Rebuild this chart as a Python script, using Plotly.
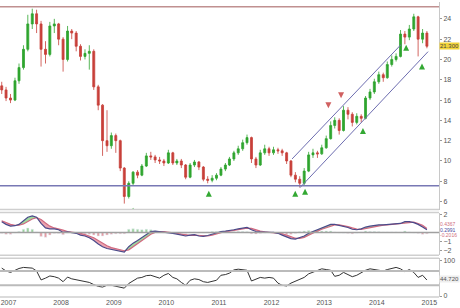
import pandas as pd
import plotly.graph_objects as go
from plotly.subplots import make_subplots

# ---------------- data (monthly) ----------------
start_month = "2006-11-01"
open_ = [17.4,17.0,16.2,16.0,17.9,19.2,21.0,23.5,24.5,23.5,
         21.0,20.5,23.3,23.5,22.0,20.0,22.8,22.6,21.3,20.3,
         20.6,20.8,17.3,15.5,12.0,11.5,12.5,12.0,9.3,6.5,
         7.8,8.9,8.6,9.5,10.5,10.4,10.1,10.0,9.8,10.8,
         9.8,10.0,9.6,8.4,9.6,9.9,9.4,8.2,8.1,8.3,
         8.6,9.2,9.6,10.2,10.8,11.2,11.8,12.3,10.2,9.6,
         10.8,11.2,10.8,11.1,11.0,10.8,10.0,8.6,8.2,7.8,
         9.0,10.6,10.8,10.7,11.3,12.2,13.5,14.0,13.0,15.0,
         14.6,13.8,14.4,14.2,16.2,16.8,17.8,18.5,18.2,19.5,
         20.0,20.3,22.5,22.2,23.0,24.2,22.0,22.6]
high = [17.8,17.3,16.6,18.2,19.6,21.4,24.4,25.0,24.9,23.8,
        21.8,23.7,24.0,23.6,22.2,23.3,23.0,22.8,21.5,21.0,
        21.4,21.0,17.5,15.6,15.0,12.8,12.7,12.1,9.4,8.0,
        9.0,9.1,9.7,10.8,10.9,10.6,10.4,10.2,11.1,10.9,
        10.2,10.2,9.7,9.8,10.1,10.0,9.5,8.5,8.6,8.8,
        9.4,9.8,10.4,11.0,11.5,12.1,12.6,12.4,10.4,11.1,
        11.6,11.4,11.4,11.3,11.2,10.9,10.1,8.9,8.5,9.3,
        10.9,11.2,11.0,11.6,12.5,13.9,14.3,14.2,15.4,15.3,
        14.8,14.7,14.6,16.4,17.1,18.1,18.8,18.7,19.8,20.4,
        20.6,22.9,22.8,23.4,24.5,24.3,23.0,22.8]
low = [16.6,15.9,15.7,15.9,17.6,19.0,20.8,23.0,22.6,19.3,
       19.6,20.3,22.6,21.4,18.8,19.8,22.0,20.8,19.9,20.0,
       19.0,17.0,15.0,10.5,10.9,11.2,10.8,9.0,5.8,6.3,
       7.6,8.3,8.5,9.4,10.1,9.8,9.7,9.5,9.7,9.6,
       9.6,9.3,8.2,8.3,9.4,9.1,8.0,7.8,7.9,8.1,
       8.5,9.0,9.5,10.0,10.6,11.0,11.6,9.8,9.3,9.5,
       10.6,10.5,10.6,10.7,10.5,9.7,8.4,7.9,7.4,7.6,
       8.9,10.3,10.3,10.6,11.2,12.1,13.2,12.6,12.9,14.1,
       13.4,13.6,13.8,14.1,16.0,16.6,17.6,17.8,18.1,19.3,
       19.8,20.2,21.5,21.9,22.8,20.3,21.6,21.1]
close = [17.0,16.2,16.0,17.9,19.2,21.0,23.5,24.5,23.5,21.0,
         20.5,23.3,23.5,22.0,20.0,22.8,22.6,21.3,20.3,20.6,
         20.8,17.3,15.5,12.0,11.5,12.5,12.0,9.3,6.5,7.8,
         8.9,8.6,9.5,10.5,10.4,10.1,10.0,9.8,10.8,9.8,
         10.0,9.6,8.4,9.6,9.9,9.4,8.2,8.1,8.3,8.6,
         9.2,9.6,10.2,10.8,11.2,11.8,12.3,10.2,9.6,10.8,
         11.2,10.8,11.1,11.0,10.8,10.0,8.6,8.2,7.8,9.0,
         10.6,10.8,10.7,11.3,12.2,13.5,14.0,13.0,15.0,14.6,
         13.8,14.4,14.2,16.2,16.8,17.8,18.5,18.2,19.5,20.0,
         20.3,22.5,22.2,23.0,24.2,22.0,22.6,21.3]
macd = [1.2,0.9,0.7,0.75,0.9,1.3,1.7,1.85,1.7,1.0,
        0.5,0.4,0.4,0.3,0.0,0.05,0.0,-0.1,-0.3,-0.4,
        -0.6,-0.9,-1.3,-1.6,-1.8,-1.9,-2.0,-2.1,-2.2,-1.6,
        -1.2,-0.9,-0.6,-0.2,0.1,0.15,0.1,0.0,0.0,-0.1,
        -0.2,-0.3,-0.4,-0.3,-0.25,-0.4,-0.45,-0.35,-0.2,-0.05,
        0.1,0.15,0.2,0.3,0.4,0.5,0.55,0.3,0.1,0.05,
        0.0,0.0,0.0,-0.1,-0.3,-0.5,-0.7,-0.75,-0.6,-0.4,
        -0.1,0.1,0.3,0.5,0.7,0.9,0.9,0.8,0.7,0.55,
        0.35,0.3,0.4,0.6,0.7,0.8,0.85,0.85,0.9,0.95,
        1.0,1.0,1.2,1.2,1.1,0.9,0.6,0.30]
signal = [1.3,1.1,0.9,0.8,0.8,0.95,1.2,1.5,1.65,1.45,
          1.05,0.7,0.5,0.4,0.25,0.1,0.05,0.0,-0.1,-0.25,
          -0.4,-0.6,-0.9,-1.2,-1.5,-1.7,-1.85,-1.95,-2.05,-1.95,
          -1.6,-1.25,-0.9,-0.55,-0.2,0.0,0.1,0.08,0.03,-0.02,
          -0.1,-0.2,-0.3,-0.33,-0.3,-0.33,-0.4,-0.4,-0.3,-0.15,
          0.0,0.1,0.15,0.22,0.3,0.4,0.48,0.45,0.28,0.15,
          0.07,0.03,0.01,-0.03,-0.15,-0.3,-0.5,-0.65,-0.68,-0.55,
          -0.3,-0.05,0.15,0.35,0.55,0.75,0.85,0.85,0.78,0.65,
          0.5,0.38,0.35,0.45,0.6,0.7,0.78,0.82,0.85,0.9,
          0.95,0.98,1.05,1.15,1.15,1.0,0.8,0.44]
rsi = [78,70,66,72,77,80,79,78,70,45,
       50,56,54,50,40,53,48,45,42,40,
       38,32,27,25,30,30,27,24,22,35,
       43,50,52,57,58,54,50,58,63,52,
       48,38,30,44,48,46,40,38,42,44,
       58,60,64,73,75,74,72,42,48,52,
       50,52,50,36,30,28,36,42,48,52,
       62,66,72,76,74,72,55,58,66,60,
       54,58,66,72,76,74,72,70,74,76,
       80,76,68,74,66,52,58,44.72]

resistance = 25.2
support = 7.55
channel_upper_dates = ["2012-05-23", "2014-06-18"]
channel_upper_vals = [10.2, 21.46]
channel_lower_dates = ["2012-07-17", "2014-12-23"]
channel_lower_vals = [7.37, 20.77]
buy_dates = ["2009-05-15", "2010-10-23", "2012-06-14", "2012-08-21", "2013-09-27", "2014-07-24", "2014-11-11"]
buy_vals = [5.4, 7.07, 7.07, 7.27, 13.24, 21.46, 19.6]
sell_dates = ["2013-01-30", "2013-04-28"]
sell_vals = [15.2, 16.17]
last_price_label = "21.300"
macd_labels = ["0.4367", "0.2991", "-0.2016"]
rsi_label = "44.720"

dates = pd.date_range(start_month, periods=len(close), freq="MS") + pd.Timedelta(days=14)
hist = [m - s for m, s in zip(macd, signal)]

# ---------------- figure ----------------
W, H = 460, 308
ML, MR, MT, MB = 0, 21, 0, 11
PH = H - MT - MB

def py(p):  # pixel (from plot top) to paper
    return (PH - p) / PH

fig = make_subplots(rows=3, cols=1, shared_xaxes=True, vertical_spacing=0.01)

GREEN = "#2fa52f"
RED = "#c8403a"

fig.add_trace(go.Candlestick(x=dates, open=open_, high=high, low=low, close=close,
                             increasing=dict(line=dict(color=GREEN, width=0.8), fillcolor=GREEN),
                             decreasing=dict(line=dict(color=RED, width=0.8), fillcolor=RED),
                             whiskerwidth=0, showlegend=False, hoverinfo="skip"), row=1, col=1)

fig.add_trace(go.Scatter(x=channel_upper_dates, y=channel_upper_vals, mode="lines",
                         line=dict(color="#6d6db0", width=1), showlegend=False), row=1, col=1)
fig.add_trace(go.Scatter(x=channel_lower_dates, y=channel_lower_vals, mode="lines",
                         line=dict(color="#6d6db0", width=1), showlegend=False), row=1, col=1)
fig.add_trace(go.Scatter(x=buy_dates, y=buy_vals, mode="markers",
                         marker=dict(symbol="arrow-up", size=6, color="#33a833",
                                     line=dict(width=0)), showlegend=False), row=1, col=1)
fig.add_trace(go.Scatter(x=sell_dates, y=sell_vals, mode="markers",
                         marker=dict(symbol="arrow-down", size=6, color="#d06060",
                                     line=dict(width=0)), showlegend=False), row=1, col=1)

# MACD panel
upper_env = [max(m, s) for m, s in zip(macd, signal)]
lower_env = [min(m, s) for m, s in zip(macd, signal)]
fig.add_trace(go.Scatter(x=dates, y=signal, mode="lines", line=dict(width=0), showlegend=False), row=2, col=1)
fig.add_trace(go.Scatter(x=dates, y=upper_env, mode="lines", line=dict(width=0), fill="tonexty",
                         fillcolor="rgba(80,190,80,0.55)", showlegend=False), row=2, col=1)
fig.add_trace(go.Scatter(x=dates, y=signal, mode="lines", line=dict(width=0), showlegend=False), row=2, col=1)
fig.add_trace(go.Scatter(x=dates, y=lower_env, mode="lines", line=dict(width=0), fill="tonexty",
                         fillcolor="rgba(220,90,110,0.55)", showlegend=False), row=2, col=1)
fig.add_trace(go.Bar(x=dates, y=hist, marker=dict(color=["rgba(90,180,90,0.6)" if h >= 0 else "rgba(210,90,100,0.6)" for h in hist]),
                     showlegend=False), row=2, col=1)
fig.add_trace(go.Scatter(x=dates, y=signal, mode="lines", line=dict(color="#d06a80", width=1.2), showlegend=False), row=2, col=1)
fig.add_trace(go.Scatter(x=dates, y=macd, mode="lines", line=dict(color="#4a4a8a", width=1.2), showlegend=False), row=2, col=1)

# RSI panel
fig.add_trace(go.Scatter(x=dates, y=rsi, mode="lines", line=dict(color="#333333", width=1), showlegend=False), row=3, col=1)

# horizontal levels
fig.add_hline(y=resistance, line=dict(color="#c09090", width=1.5), row=1, col=1)
fig.add_hline(y=support, line=dict(color="#7878b4", width=1.5), row=1, col=1)
fig.add_hline(y=0, line=dict(color="#a0a0a0", width=1.5), row=2, col=1)
fig.add_hline(y=70, line=dict(color="#bbbbbb", width=2), row=3, col=1)
fig.add_hline(y=30, line=dict(color="#bbbbbb", width=2), row=3, col=1)

xr = ["2006-11-03", "2015-03-09"]
tickfont = dict(family="Liberation Sans", size=7, color="#555555")
for i in (1, 2, 3):
    fig.update_xaxes(range=xr, showgrid=False, zeroline=False, row=i, col=1,
                     rangeslider_visible=False, showticklabels=(i == 3),
                     tickformat="%Y", dtick="M12", tick0="2007-01-01", tickfont=tickfont,
                     ticks="")

fig.update_yaxes(domain=[py(209), 1], range=[5.21, 25.66], side="right", showgrid=False, zeroline=False,
                 tickvals=[6, 8, 10, 12, 14, 16, 18, 20, 22, 24], ticks="outside", ticklen=2,
                 tickcolor="#999", showline=True, linecolor="#c8c8c8", linewidth=1,
                 tickfont=tickfont, row=1, col=1)
fig.update_yaxes(domain=[py(255), py(212)], range=[-2.56, 2.22], side="right", showgrid=False, zeroline=False,
                 tickvals=[-2, -1, 2], ticks="outside", ticklen=2, tickcolor="#999",
                 showline=True, linecolor="#c8c8c8", linewidth=1, tickfont=tickfont, row=2, col=1)
fig.update_yaxes(domain=[0, py(258)], range=[-2.8, 105.6], side="right", showgrid=False, zeroline=False,
                 tickvals=[0, 100], ticks="outside", ticklen=2, tickcolor="#999",
                 showline=True, linecolor="#c8c8c8", linewidth=1, tickfont=tickfont, row=3, col=1)

# panel separators
shapes = []
for p in (209, 212, 255, 258, 297):
    shapes.append(dict(type="line", xref="paper", yref="paper", x0=0, x1=1, y0=py(p), y1=py(p),
                       line=dict(color="#cfcfcf", width=1.5)))
fig.update_layout(shapes=list(fig.layout.shapes) + shapes)

# value labels on right axis
fig.add_annotation(xref="paper", x=1, xanchor="left", xshift=0, yref="y", y=21.3, text=last_price_label,
                   showarrow=False, bgcolor="#f2d33a", font=dict(family="Liberation Sans", size=6, color="#444"),
                   borderpad=0)
lab_cols = ["#d07080", "#4a4aa0", "#d07080"]
lab_y = [0.95, 0.32, -0.3]
for t, c, yy in zip(macd_labels, lab_cols, lab_y):
    fig.add_annotation(xref="paper", x=1, xanchor="left", xshift=0, yref="y2", y=yy, text=t,
                       showarrow=False, font=dict(family="Liberation Sans", size=5, color=c), borderpad=0)
fig.add_annotation(xref="paper", x=1, xanchor="left", xshift=0, yref="y3", y=47, text=rsi_label,
                   showarrow=False, bgcolor="#eeeeee", font=dict(family="Liberation Sans", size=6, color="#555"),
                   borderpad=0)

fig.update_layout(width=W, height=H, margin=dict(l=ML, r=MR, t=MT, b=MB),
                  paper_bgcolor="white", plot_bgcolor="white", showlegend=False,
                  bargap=0.4, hovermode=False)

fig.write_html("out.html")
